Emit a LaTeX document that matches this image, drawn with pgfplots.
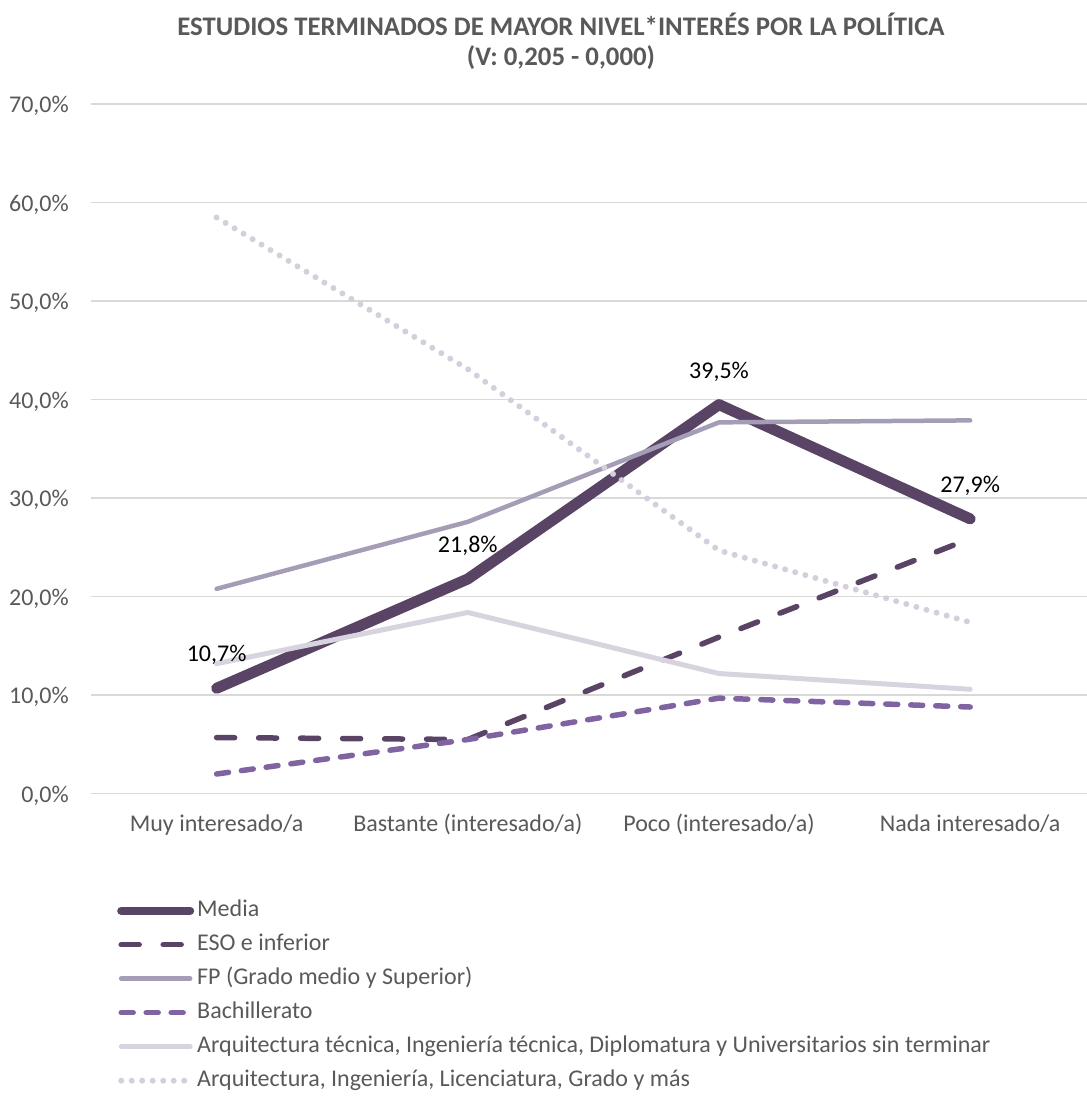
\documentclass[border=0pt]{standalone}
\usepackage{pgfplots}
\pgfplotsset{compat=1.18}
\usepackage{fontspec}
\setmainfont{Carlito}
\definecolor{cMedia}{HTML}{5A4466}
\definecolor{cFP}{HTML}{A59DB5}
\definecolor{cBach}{HTML}{8064A2}
\definecolor{cArqT}{HTML}{D8D4DF}
\definecolor{cArq}{HTML}{D3CFDC}
\definecolor{cGrid}{HTML}{D9D9D9}
\definecolor{cText}{HTML}{595959}
\begin{document}
\begin{tikzpicture}
\useasboundingbox (0pt,0pt) rectangle (1087pt,1104pt);
\node[anchor=base, inner sep=0pt, font=\fontsize{26.8}{30}\selectfont\bfseries, text=cText] at (561pt,1068pt) {ESTUDIOS TERMINADOS DE MAYOR NIVEL*INTERÉS POR LA POLÍTICA};
\node[anchor=base, inner sep=0pt, font=\fontsize{26.8}{30}\selectfont\bfseries, text=cText] at (561pt,1038pt) {(V: 0,205 - 0,000)};
\begin{axis}[
  at={(91pt,310.3pt)}, anchor=south west,
  scale only axis, width=996pt, height=689.5pt,
  xmin=-0.5, xmax=3.465, ymin=0, ymax=70,
  axis line style={draw=none},
  ymajorgrids, grid style={cGrid, line width=1.5pt},
  ytick={0,10,20,30,40,50,60,70},
  yticklabels={{0,0\%},{10,0\%},{20,0\%},{30,0\%},{40,0\%},{50,0\%},{60,0\%},{70,0\%}},
  xtick={0,1,2,3},
  xticklabels={Muy interesado/a, Bastante (interesado/a), Poco (interesado/a), Nada interesado/a},
  major tick length=0pt,
  tick label style={font=\fontsize{24}{28}\selectfont, text=cText},
  yticklabel style={anchor=base east, inner sep=0pt, xshift=-22pt, yshift=-8.7pt},
  xticklabel style={anchor=base, inner sep=0pt, yshift=-38pt},
  clip=false,
  legend cell align=left,
  legend image code/.code={\draw[#1] (0pt,0pt) -- (69pt,0pt);},
  legend style={at={(axis description cs:0,0)}, anchor=north west, xshift=26pt, yshift=-105.3pt,
    draw=none, fill=none, inner sep=0pt, font=\fontsize{24}{28}\selectfont, text=cText,
    row sep=11pt, column sep=3pt,
    nodes={inner sep=0pt, text height=17pt, text depth=6pt}},
]
\addplot[cMedia, line width=11pt, line cap=round, line join=round, legend image post style={line width=8pt}]
  coordinates {(0,10.7) (1,21.8) (2,39.5) (3,27.9)};
\addlegendentry{Media}
\addplot[cMedia, line width=5.5pt, line cap=round, dash pattern=on 18pt off 24pt]
  coordinates {(0,5.7) (1,5.5) (2,15.9) (3,25.9)};
\addlegendentry{ESO e inferior}
\addplot[cFP, line width=4.5pt, line cap=round, line join=round]
  coordinates {(0,20.8) (1,27.6) (2,37.7) (3,37.9)};
\addlegendentry{FP (Grado medio y Superior)}
\addplot[cBach, line width=5.5pt, line cap=round, dash pattern=on 12pt off 13pt]
  coordinates {(0,2.0) (1,5.5) (2,9.7) (3,8.8)};
\addlegendentry{Bachillerato}
\addplot[cArqT, line width=5pt, line cap=round, line join=round]
  coordinates {(0,13.2) (1,18.4) (2,12.2) (3,10.6)};
\addlegendentry{Arquitectura técnica, Ingeniería técnica, Diplomatura y Universitarios sin terminar}
\addplot[cArq, line width=6pt, line cap=round, dash pattern=on 0pt off 10.5pt]
  coordinates {(0,58.5) (1,43.1) (2,24.7) (3,17.4)};
\addlegendentry{Arquitectura, Ingeniería, Licenciatura, Grado y más}
\addplot[draw=none, forget plot, point meta=explicit symbolic, nodes near coords,
  every node near coord/.style={anchor=center, yshift=33pt, inner sep=0pt, font=\fontsize{24}{28}\selectfont, text=black}]
  coordinates {(0,10.7) [10,7\%] (1,21.8) [21,8\%] (2,39.5) [39,5\%] (3,27.9) [27,9\%]};
\end{axis}
\end{tikzpicture}
\end{document}
